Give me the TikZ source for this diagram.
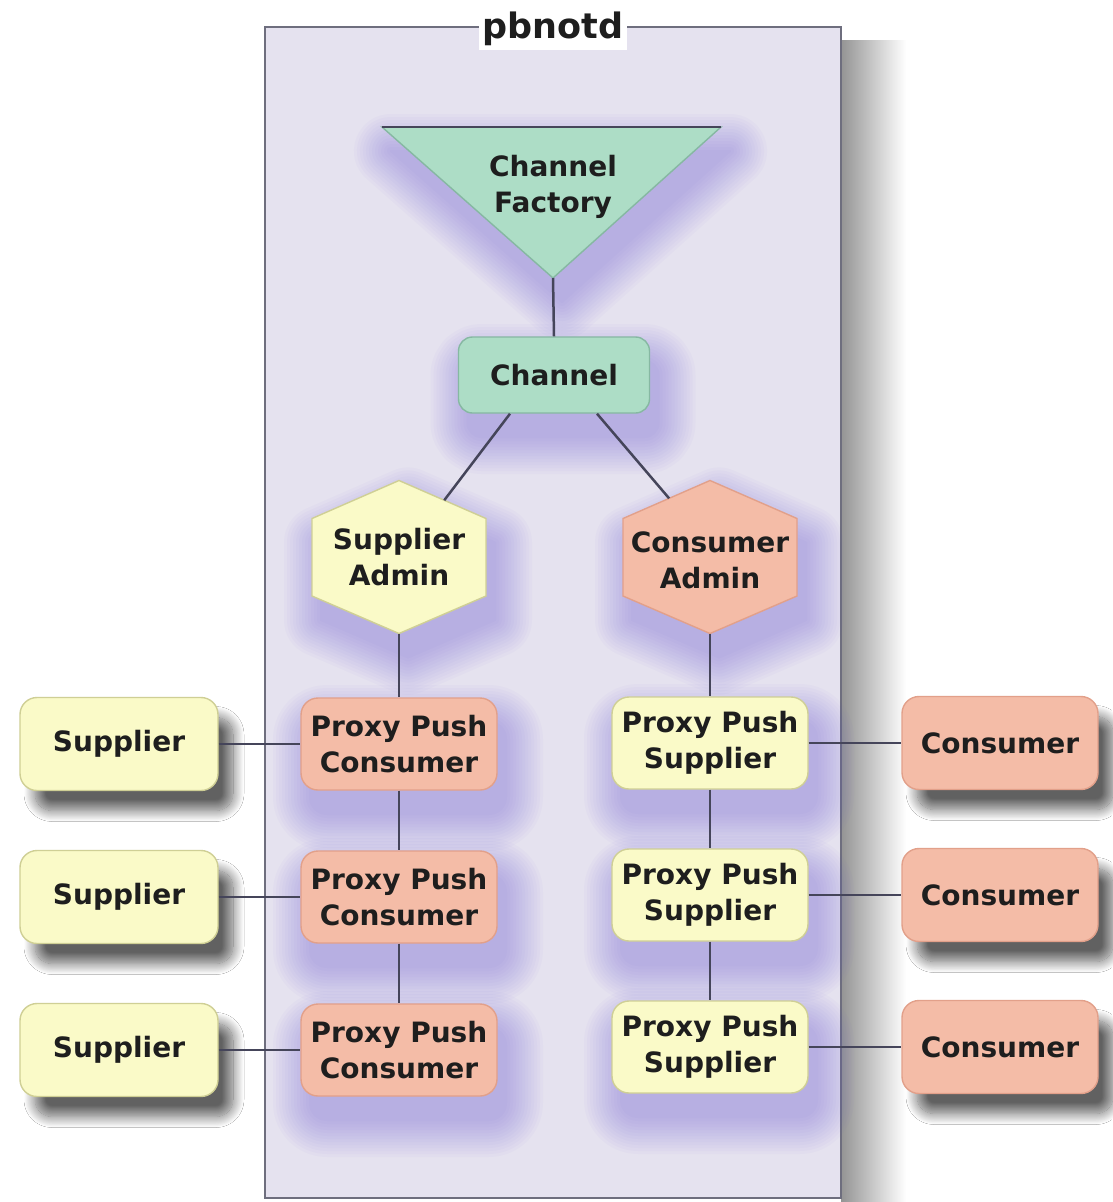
\documentclass[tikz,border=0pt]{standalone}
\usepackage{fontspec}
\setmainfont{DejaVu Sans}
\usetikzlibrary{shadows.blur,calc}
\definecolor{boxfill}{HTML}{E5E2EF}
\definecolor{boxline}{HTML}{6E6E7E}
\definecolor{mint}{HTML}{ADDDC6}
\definecolor{mintline}{HTML}{86B8A2}
\definecolor{pyellow}{HTML}{FAFAC8}
\definecolor{pyellowline}{HTML}{CFCF95}
\definecolor{salmon}{HTML}{F4BCA7}
\definecolor{salmonline}{HTML}{E2A08A}
\definecolor{wire}{HTML}{45455A}
\definecolor{glow}{HTML}{6A5AD2}
\definecolor{ink}{HTML}{1E1E1E}
\tikzset{
  lbl/.style={font=\bfseries\fontsize{28}{36}\selectfont, text=ink, align=center},
  outshadow/.style={blur shadow={shadow xshift=15pt, shadow yshift=-20pt, shadow blur radius=11pt, shadow blur steps=18, shadow opacity=62}},
  roundbox/.style={lbl, rounded corners=17pt, minimum width=196pt, minimum height=92pt, inner sep=0pt, line width=1.4pt},
  yellowbox/.style={roundbox, fill=pyellow, draw=pyellowline},
  salmonbox/.style={roundbox, fill=salmon, draw=salmonline},
  chbox/.style={lbl, rounded corners=14pt, minimum width=191pt, minimum height=76pt, inner sep=0pt, line width=1.4pt, fill=mint, draw=mintline},
  hexbox/.style={lbl, minimum width=174pt, minimum height=153pt, inner sep=0pt},
  shapeline/.style={line width=1.4pt},
  wire/.style={draw=wire, line width=2.5pt},
  boxframe/.style={fill=boxfill, draw=boxline, line width=2.4pt},
  titlebox/.style={fill=white, inner sep=4pt, font=\bfseries\fontsize{35}{40}\selectfont, text=ink},
  glowlayer/.style={fill=glow, draw=glow, line join=round, shift={(9pt,-24pt)}}
}
% soft purple shadow: stacked dilations, each in its own transparency group
\newcommand\glowpath[1]{%
  \foreach \w in {74,68,62,56,50,44,38,32,26,20,14,8,2}{%
    \begin{scope}[transparency group, opacity=0.033]
      \path[glowlayer, line width=\w pt] #1;
    \end{scope}}}
\newcommand\boxglow[5]{\glowpath{[rounded corners=#5] (#1-#3/2,#2-#4/2) rectangle (#1+#3/2,#2+#4/2)}}
\begin{document}
\begin{tikzpicture}[x=1pt,y=-1pt]
\useasboundingbox (0,0) rectangle (1112,1202);
\fill[white] (0,0) rectangle (1112,1202);
\shade[left color=black!42, middle color=black!14, right color=white] (841,40) rectangle (906,1202);
\draw[boxframe] (265,27) rectangle (841,1198);
\node[titlebox] (title) at (553,29) {pbnotd};

% Channel Factory triangle
\coordinate (cftl) at (382,127);
\coordinate (cftr) at (721,127);
\coordinate (cfapex) at (553,278);
\glowpath{(382,127) -- (721,127) -- (553,278) -- cycle}
\filldraw[fill=mint, draw=mintline, shapeline] (cftl) -- (cftr) -- (cfapex) -- cycle;
\draw[wire] (cftl) -- (cftr);
\node[lbl] (cf) at (553,187) {Channel\\Factory};

% Channel
\boxglow{554}{375}{191}{76}{14pt}
\node[chbox] (ch) at (554,375) {Channel};

% Admin hexagons
\glowpath{(399,480.5) -- (486,518.5) -- (486,596) -- (399,633.5) -- (312,596) -- (312,518.5) -- cycle}
\glowpath{(710,480.5) -- (797,518.5) -- (797,596) -- (710,633.5) -- (623,596) -- (623,518.5) -- cycle}
\filldraw[fill=pyellow, draw=pyellowline, shapeline] (399,480.5) -- (486,518.5) -- (486,596) -- (399,633.5) -- (312,596) -- (312,518.5) -- cycle;
\filldraw[fill=salmon, draw=salmonline, shapeline] (710,480.5) -- (797,518.5) -- (797,596) -- (710,633.5) -- (623,596) -- (623,518.5) -- cycle;
\node[hexbox] (sa) at (399,557) {Supplier\\Admin};
\node[hexbox] (ca) at (710,560) {Consumer\\Admin};

% Proxies
\foreach \y in {744,897,1050}{\boxglow{399}{\y}{196}{92}{17pt}}
\foreach \y in {743,895,1047}{\boxglow{710}{\y}{196}{92}{17pt}}
\node[salmonbox] (pl1) at (399,744) {Proxy Push\\Consumer};
\node[salmonbox] (pl2) at (399,897) {Proxy Push\\Consumer};
\node[salmonbox] (pl3) at (399,1050) {Proxy Push\\Consumer};
\node[yellowbox] (pr1) at (710,743) {Proxy Push\\Supplier};
\node[yellowbox] (pr2) at (710,895) {Proxy Push\\Supplier};
\node[yellowbox] (pr3) at (710,1047) {Proxy Push\\Supplier};

% Outside clients
\node[yellowbox, outshadow, minimum width=198pt, minimum height=93pt] (s1) at (119,744) {Supplier};
\node[yellowbox, outshadow, minimum width=198pt, minimum height=93pt] (s2) at (119,897) {Supplier};
\node[yellowbox, outshadow, minimum width=198pt, minimum height=93pt] (s3) at (119,1050) {Supplier};
\node[salmonbox, outshadow, minimum width=196pt, minimum height=93pt] (c1) at (1000,743) {Consumer};
\node[salmonbox, outshadow, minimum width=196pt, minimum height=93pt] (c2) at (1000,895) {Consumer};
\node[salmonbox, outshadow, minimum width=196pt, minimum height=93pt] (c3) at (1000,1047) {Consumer};

% Connectors
\coordinate (sa-top) at (399,480.5);
\coordinate (sa-ne) at (486,518.5);
\coordinate (ca-top) at (710,480.5);
\coordinate (ca-nw) at (623,518.5);
\coordinate (sa-bot) at (399,633.5);
\coordinate (ca-bot) at (710,633.5);
\coordinate (saedge) at ($(sa-top)!0.52!(sa-ne)$);
\coordinate (caedge) at ($(ca-top)!0.47!(ca-nw)$);
\draw[wire] (cfapex) -- (ch.north);
\draw[wire] ([xshift=-44pt]ch.south) -- (saedge);
\draw[wire] ([xshift=43pt]ch.south) -- (caedge);
\draw[wire] (sa-bot) -- (pl1.north);
\draw[wire] (pl1.south) -- (pl2.north);
\draw[wire] (pl2.south) -- (pl3.north);
\draw[wire] (ca-bot) -- (pr1.north);
\draw[wire] (pr1.south) -- (pr2.north);
\draw[wire] (pr2.south) -- (pr3.north);
\draw[wire] (s1.east) -- (pl1.west);
\draw[wire] (s2.east) -- (pl2.west);
\draw[wire] (s3.east) -- (pl3.west);
\draw[wire] (pr1.east) -- (c1.west);
\draw[wire] (pr2.east) -- (c2.west);
\draw[wire] (pr3.east) -- (c3.west);
\end{tikzpicture}
\end{document}
